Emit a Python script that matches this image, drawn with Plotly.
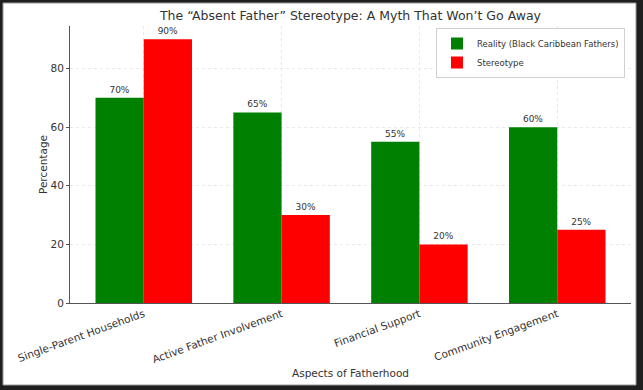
import plotly.graph_objects as go

categories = ["Single-Parent Households", "Active Father Involvement",
              "Financial Support", "Community Engagement"]
reality = [70, 65, 55, 60]
stereotype = [90, 30, 20, 25]
yticks = [0, 20, 40, 60, 80]

W, H = 643, 390
L, R, T, B = 70, 12, 26, 87
pw = W - L - R
ph = H - T - B

def px_x(x):
    return (x - L) / pw

def px_y(y):
    return 1 - (y - T) / ph

font = "DejaVu Sans"

fig = go.Figure()
fig.add_trace(go.Bar(
    x=categories, y=reality, name="Reality (Black Caribbean Fathers)",
    marker=dict(color="green", line=dict(width=0)),
    texttemplate="%{y}%", textposition="outside", cliponaxis=False,
    textfont=dict(size=9, color="#333", family=font),
))
fig.add_trace(go.Bar(
    x=categories, y=stereotype, name="Stereotype",
    marker=dict(color="red", line=dict(width=0)),
    texttemplate="%{y}%", textposition="outside", cliponaxis=False,
    textfont=dict(size=9, color="#333", family=font),
))

fig.add_shape(type="rect", xref="paper", yref="paper",
              x0=px_x(3), x1=px_x(636), y0=px_y(385), y1=px_y(3),
              fillcolor="white", line=dict(color="#9a9a9a", width=1),
              layer="below")

fig.update_layout(
    width=W, height=H,
    margin=dict(l=L, r=R, t=T, b=B, autoexpand=False),
    paper_bgcolor="#1f1f1f", plot_bgcolor="white",
    barmode="group", bargap=0.3, bargroupgap=0,
    font=dict(family=font, color="#222"),
    title=dict(text="The “Absent Father” Stereotype: A Myth That Won’t Go Away",
               xref="container", x=350.5 / W, xanchor="center",
               y=1 - 16 / H, yanchor="middle",
               font=dict(size=12.5, color="#333", family=font)),
    legend=dict(x=px_x(625), xanchor="right", y=px_y(28), yanchor="top",
                bgcolor="white", bordercolor="#d0d0d0", borderwidth=1,
                font=dict(size=8.5, color="#333", family=font),
                itemwidth=30, tracegroupgap=0),
    showlegend=True,
)
fig.update_xaxes(
    automargin=True,
    range=[-0.535, 3.535], tickangle=-20,
    tickfont=dict(size=10.5, color="#333", family=font),
    title=dict(text="Aspects of Fatherhood", font=dict(size=10.5, color="#333", family=font),
               standoff=5),
    showline=True, linecolor="#555", linewidth=1,
    showgrid=True, gridcolor="#e8e8e8", griddash="dot", gridwidth=1,
    ticks="", zeroline=False,
)
fig.update_yaxes(
    automargin=True,
    range=[0, 94.5], tickvals=yticks,
    tickfont=dict(size=10.5, color="#333", family=font),
    title=dict(text="Percentage", font=dict(size=10.5, color="#333", family=font),
               standoff=0),
    showline=True, linecolor="#555", linewidth=1,
    showgrid=True, gridcolor="#e8e8e8", griddash="dot", gridwidth=1,
    ticks="outside", ticklen=3, tickcolor="#555", zeroline=False,
)

fig.write_html("out.html", config={"displayModeBar": False},
               post_script="document.body.style.margin='0';document.body.style.background='#1f1f1f';")
